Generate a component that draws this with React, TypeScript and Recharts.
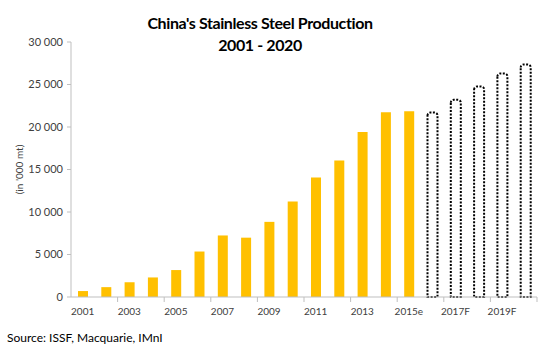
import { BarChart, Bar, XAxis, YAxis } from "recharts";

const years = [
  "2001", "2002", "2003", "2004", "2005", "2006", "2007", "2008", "2009", "2010",
  "2011", "2012", "2013", "2014", "2015e", "2016F", "2017F", "2018F", "2019F", "2020F",
];
const actual = [
  700, 1160, 1750, 2300, 3170, 5350, 7240, 6980, 8840, 11250,
  14070, 16050, 19420, 21740, 21860, null, null, null, null, null,
];
const forecast = [
  null, null, null, null, null, null, null, null, null, null,
  null, null, null, null, null, 21700, 23200, 24770, 26300, 27360,
];
const yTicks = [0, 5000, 10000, 15000, 20000, 25000, 30000];

const data = years.map((year, i) => ({ year, actual: actual[i], forecast: forecast[i] }));

const FONT = "Lato, 'Open Sans', sans-serif";
const AXIS = "#bfbfbf";

const fmt = (v: number) => (v === 0 ? "0" : v.toLocaleString("en-US").replace(/,/g, " "));

function XTick(props: any) {
  const { x, y, payload, index } = props;
  const band = 466 / years.length;
  return (
    <g>
      {index % 2 === 1 && (
        <line x1={x + band / 2} x2={x + band / 2} y1={y - 8} y2={y - 3} stroke={AXIS} />
      )}
      {index % 2 === 0 && (
        <text x={x} y={y + 10} textAnchor="middle" fontSize={10} fill="#404040" fontFamily={FONT}>
          {payload.value}
        </text>
      )}
    </g>
  );
}

export default function App() {
  return (
    <div style={{ position: "relative", width: 558, height: 353, background: "#fff" }}>
      <style>{`body{margin:0}`}</style>
      <div
        style={{
          position: "absolute",
          left: 60,
          width: 400,
          top: 12,
          textAlign: "center",
          whiteSpace: "nowrap",
          fontFamily: FONT,
          fontWeight: 700,
          fontSize: 16,
          letterSpacing: -0.4,
          lineHeight: "22px",
          color: "#000",
        }}
      >
        China's Stainless Steel Production
        <br />
        2001 - 2020
      </div>
      <BarChart
        width={558}
        height={353}
        data={data}
        margin={{ top: 42, right: 21, bottom: 26, left: 0 }}
        barSize={10}
      >
        <XAxis
          dataKey="year"
          interval={0}
          tickLine={false}
          tick={<XTick />}
          axisLine={{ stroke: AXIS }}
          height={30}
        />
        <YAxis
          width={71}
          domain={[0, 30000]}
          ticks={yTicks}
          tickFormatter={fmt}
          tick={{ fontSize: 11, fill: "#404040", fontFamily: FONT }}
          tickLine={{ stroke: AXIS }}
          tickSize={4}
          tickMargin={4}
          axisLine={{ stroke: AXIS }}
          label={{
            value: "(in '000 mt)",
            angle: -90,
            position: "insideLeft",
            dx: 14,
            style: { fontSize: 10, fill: "#404040", fontFamily: FONT, textAnchor: "middle" },
          }}
        />
        <Bar dataKey="actual" stackId="a" fill="#ffc000" isAnimationActive={false} />
        <Bar
          dataKey="forecast"
          stackId="a"
          fill="none"
          stroke="#000"
          strokeWidth={2}
          strokeDasharray="2 1.5"
          radius={[3, 3, 0, 0]}
          isAnimationActive={false}
        />
      </BarChart>
      <div
        style={{
          position: "absolute",
          left: 7,
          top: 330,
          fontFamily: FONT,
          fontSize: 12,
          color: "#000",
        }}
      >
        Source: ISSF, Macquarie, IMnI
      </div>
    </div>
  );
}
